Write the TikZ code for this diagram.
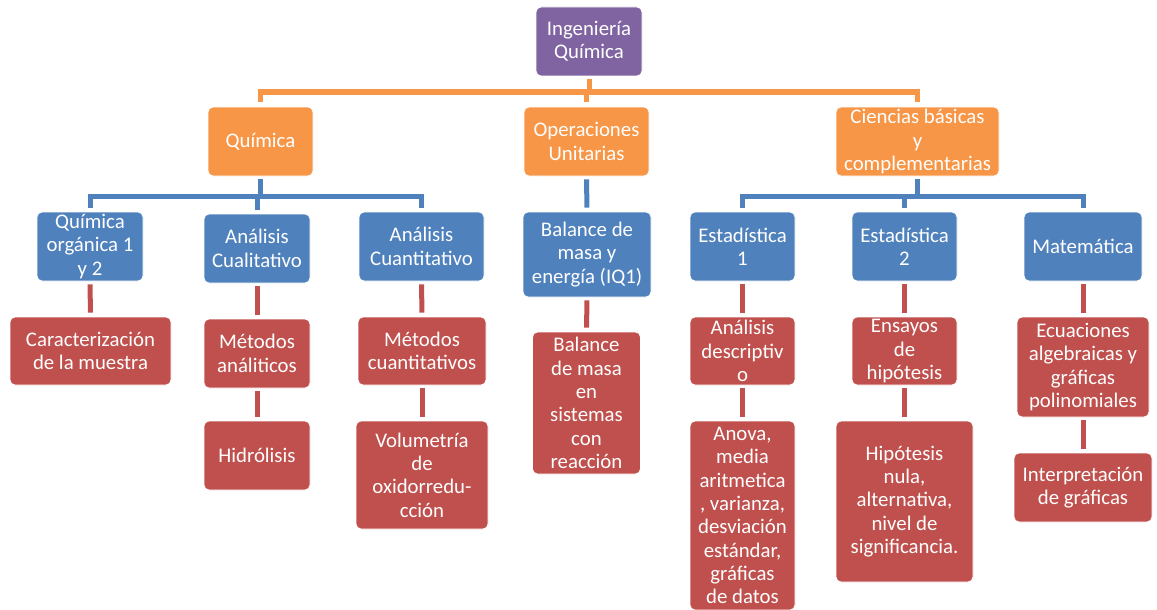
\documentclass[tikz,border=0pt]{standalone}
\usepackage{fontspec}
\setmainfont{Carlito}
\definecolor{cpur}{HTML}{8064A2}
\definecolor{cora}{HTML}{F79646}
\definecolor{cblu}{HTML}{4F81BD}
\definecolor{cred}{HTML}{C0504D}
\tikzset{
  bx/.style={rounded corners=5pt, draw=white, line width=0.8pt, text=white, align=center,
    inner sep=0pt, font=\fontsize{20.8}{23.3}\selectfont},
  pbox/.style={bx, fill=cpur},
  obox/.style={bx, fill=cora},
  bbox/.style={bx, fill=cblu},
  rbox/.style={bx, fill=cred},
  cl/.style={line width=5pt, line join=miter},
  oline/.style={cl, draw=cora},
  bline/.style={cl, draw=cblu},
  rline/.style={cl, draw=cred, shorten <=3pt, shorten >=4pt},
}
\begin{document}
\begin{tikzpicture}[x=1pt,y=-1pt]
\useasboundingbox (0,0) rectangle (1157,610);
% level 0
\node[pbox, minimum width=106pt, minimum height=69pt] (iq) at (589,41.5) {Ingeniería\\Química};
% level 1
\node[obox, minimum width=105pt, minimum height=69pt] (qui) at (260.5,141.5) {Química};
\node[obox, minimum width=125pt, minimum height=69pt] (ou) at (586.5,141.5) {Operaciones\\Unitarias};
\node[obox, minimum width=163pt, minimum height=69pt] (cb) at (917.5,141.5) {Ciencias básicas\\y\\complementarias};
% level 2
\node[bbox, minimum width=106pt, minimum height=69pt] (qo) at (90,246.5) {Química\\orgánica 1\\y 2};
\node[bbox, minimum width=106pt, minimum height=69pt] (acl) at (257,248.5) {Análisis\\Cualitativo};
\node[bbox, minimum width=125pt, minimum height=69pt] (acn) at (421.5,246.5) {Análisis\\Cuantitativo};
\node[bbox, minimum width=128pt, minimum height=85pt] (bme) at (587,254.5) {Balance de\\masa y\\energía (IQ1)};
\node[bbox, minimum width=105pt, minimum height=69pt] (e1) at (742.5,246.5) {Estadística\\1};
\node[bbox, minimum width=105pt, minimum height=69pt] (e2) at (904.5,246.5) {Estadística\\2};
\node[bbox, minimum width=118pt, minimum height=69pt] (mat) at (1083,246.5) {Matemática};
% level 3
\node[rbox, minimum width=161pt, minimum height=68pt] (car) at (90.5,351) {Caracterización\\de la muestra};
\node[rbox, minimum width=106pt, minimum height=69pt] (mea) at (257,353.5) {Métodos\\análiticos};
\node[rbox, minimum width=106pt, minimum height=69pt] (hid) at (257,455.5) {Hidrólisis};
\node[rbox, minimum width=128pt, minimum height=68pt] (mcu) at (422,351) {Métodos\\cuantitativos};
\node[rbox, minimum width=132pt, minimum height=108pt] (vol) at (422,475) {Volumetría\\de\\oxidorredu-\\cción};
\node[rbox, minimum width=108pt, minimum height=142pt] (bmr) at (586.5,403) {Balance\\de masa\\en\\sistemas\\con\\reacción};
\node[rbox, minimum width=105pt, minimum height=68pt] (ade) at (742.5,351) {Análisis\\descriptiv\\o};
\node[rbox, minimum width=105pt, minimum height=189pt] (ano) at (742.5,515.5) {Anova,\\media\\aritmetica\\, varianza,\\desviación\\estándar,\\gráficas\\de datos};
\node[rbox, minimum width=105pt, minimum height=68pt] (eh) at (904.5,351) {Ensayos\\de\\hipótesis};
\node[rbox, minimum width=137pt, minimum height=161pt] (hn) at (904.5,501.5) {Hipótesis\\nula,\\alternativa,\\nivel de\\significancia.};
\node[rbox, minimum width=132pt, minimum height=100pt] (ecu) at (1083,367) {Ecuaciones\\algebraicas y\\gráficas\\polinomiales};
\node[rbox, minimum width=138pt, minimum height=69pt] (int) at (1083,487.5) {Interpretación\\de gráficas};
% orange connectors
\coordinate (ob) at (589,92);
\draw[oline, shorten <=3pt] (iq.south) -- (ob);
\draw[oline, shorten <=5pt, shorten >=5pt] (qui.north) |- (ob) -| (cb.north);
\draw[oline, shorten >=5pt] (ob -| ou.north) -- (ou.north);
% blue connectors
\coordinate (qb) at (260.5,196);
\draw[bline, shorten <=3pt] (qui.south) -- (qb);
\draw[bline, shorten <=4pt, shorten >=4pt] (qo.north) |- (qb) -| (acn.north);
\draw[bline, shorten >=4pt] (qb -| acl.north) -- (acl.north);
\draw[bline, shorten <=3pt, shorten >=4pt] (ou.south) -- (bme.north);
\coordinate (cbb) at (917.5,196);
\draw[bline, shorten <=3pt] (cb.south) -- (cbb);
\draw[bline, shorten <=4pt, shorten >=4pt] (e1.north) |- (cbb) -| (mat.north);
\draw[bline, shorten >=4pt] (cbb -| e2.north) -- (e2.north);
% red connectors
\draw[rline] (qo.south) -- (car.north);
\draw[rline] (acl.south) -- (mea.north);
\draw[rline] (mea.south) -- (hid.north);
\draw[rline] (acn.south) -- (mcu.north);
\draw[rline] (mcu.south) -- (vol.north);
\draw[rline] (bme.south) -- (bmr.north);
\draw[rline] (e1.south) -- (ade.north);
\draw[rline] (ade.south) -- (ano.north);
\draw[rline] (e2.south) -- (eh.north);
\draw[rline] (eh.south) -- (hn.north);
\draw[rline] (mat.south) -- (ecu.north);
\draw[rline] (ecu.south) -- (int.north);
\end{tikzpicture}
\end{document}
